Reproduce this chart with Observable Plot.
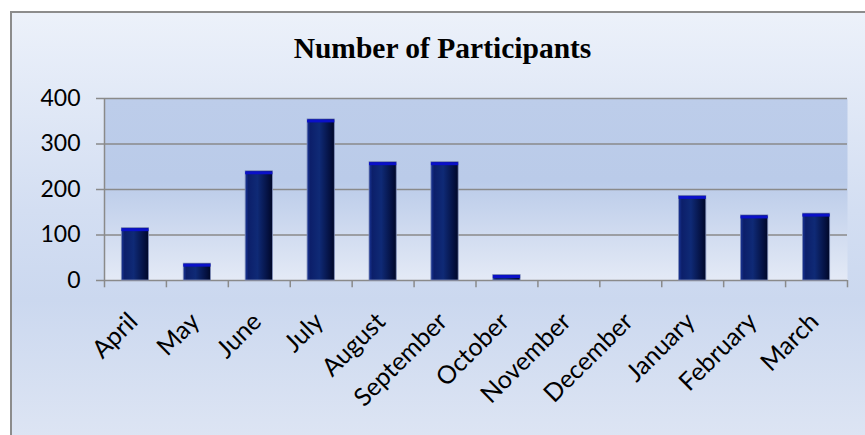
<!DOCTYPE html>
<html>
<head>
<meta charset="utf-8">
<script src="https://cdn.jsdelivr.net/npm/d3@7"></script>
<script src="https://cdn.jsdelivr.net/npm/@observablehq/plot@0.6"></script>
<style>
  html, body { margin: 0; padding: 0; background: #ffffff; }
  #page { position: relative; width: 865px; height: 435px; overflow: hidden; }
  #frame {
    position: absolute; left: 10px; top: 11px; width: 870px; height: 440px;
    border-left: 2px solid #8c8c8c; border-top: 2px solid #8c8c8c;
    background: linear-gradient(to bottom, #ecf1fa 0%, #d3def2 45%, #cbd8ef 65%, #dfe6f4 100%);
  }
  #title {
    position: absolute; left: 0; width: 885px; top: 32px; text-align: center;
    font-family: "Liberation Serif", "Times New Roman", serif; font-weight: bold;
    font-size: 29.5px; line-height: 1.15; color: #000;
  }
  #chart { position: absolute; left: 0; top: 0; }
  #chart svg text { font-family: Lato, sans-serif; }
</style>
</head>
<body>
<div id="page">
  <div id="frame"></div>
  <svg width="0" height="0" style="position:absolute">
    <defs>
      <linearGradient id="plotBg" x1="0" y1="0" x2="0" y2="1">
        <stop offset="0" stop-color="#bdcdea"/>
        <stop offset="0.45" stop-color="#bacbe9"/>
        <stop offset="1" stop-color="#e4eaf6"/>
      </linearGradient>
      <linearGradient id="barFill" x1="0" y1="0" x2="1" y2="0">
        <stop offset="0" stop-color="#1a3596"/>
        <stop offset="0.12" stop-color="#0c1f6a"/>
        <stop offset="0.45" stop-color="#0f2a76"/>
        <stop offset="0.85" stop-color="#04103f"/>
        <stop offset="1" stop-color="#000828"/>
      </linearGradient>
    </defs>
  </svg>
  <div id="title">Number of Participants</div>
  <div id="chart"></div>
</div>
<script>
const months = ["April","May","June","July","August","September","October","November","December","January","February","March"];
const participants = [115, 37, 240, 354, 260, 260, 12, 0, 0, 186, 143, 147];
const yTicks = [0, 100, 200, 300, 400];

const data = months.map((m, i) => ({month: m, value: participants[i]}));

const W = 865, H = 435;
const ml = 104, mr = 18, mt = 98, mb = 155;
const step = (W - ml - mr) / months.length;

const chart = Plot.plot({
  width: W,
  height: H,
  marginLeft: ml,
  marginRight: mr,
  marginTop: mt,
  marginBottom: mb,
  style: {background: "transparent", overflow: "visible"},
  x: {domain: months, paddingInner: 0.56, paddingOuter: 0.28, round: false, label: null},
  y: {domain: [0, 400], ticks: yTicks, label: null},
  marks: [
    Plot.frame({fill: "url(#plotBg)", stroke: null}),
    Plot.gridY(yTicks, {stroke: "#8a8a8a", strokeOpacity: 1, strokeWidth: 1.5}),
    Plot.ruleX([months[0]], {dx: -step / 2, y1: 0, y2: 400, stroke: "#8a8a8a", strokeWidth: 1.5}),
    Plot.ruleX(months, {dx: -step / 2, y1: 0, y2: -16, stroke: "#8a8a8a", strokeWidth: 1.5}),
    Plot.ruleX([months[months.length - 1]], {dx: step / 2, y1: 0, y2: -16, stroke: "#8a8a8a", strokeWidth: 1.5}),
    Plot.barY(data, {x: "month", y: "value", fill: "url(#barFill)", stroke: "#7f8db8", strokeWidth: 0.8}),
    Plot.tickY(data.filter(d => d.value > 0), {x: "month", y: "value", stroke: "#0a10c8", strokeWidth: 3, dy: 1.5}),
    Plot.axisY({ticks: yTicks, tickSize: 8, tickPadding: 16, stroke: "#8a8a8a", strokeWidth: 1.5,
      fontSize: 23, fill: "#000", strokeOpacity: 1}),
    Plot.axisX({tickSize: 0, tickRotate: -45, tickPadding: 12, fontSize: 25, dy: 25, dx: -2,
      fill: "#000", label: null})
  ]
});

document.getElementById("chart").appendChild(chart);
</script>
</body>
</html>
